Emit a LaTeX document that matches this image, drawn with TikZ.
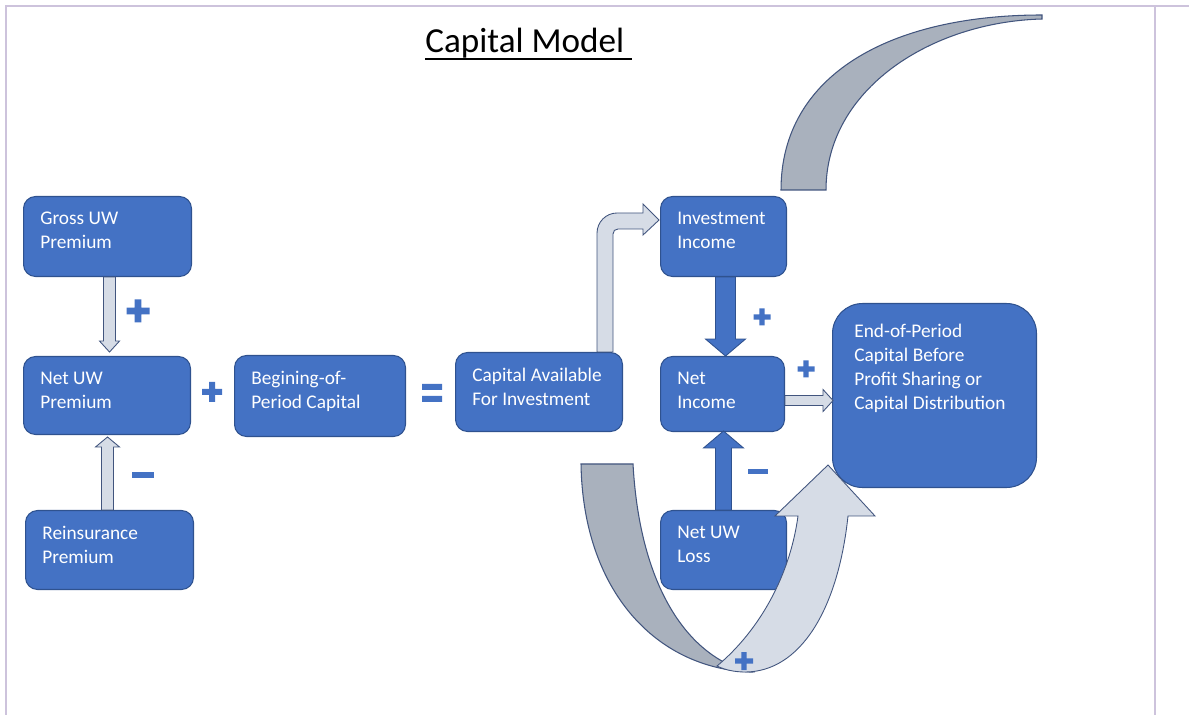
\documentclass[tikz,border=0pt]{standalone}
\usepackage{fontspec}
\setmainfont{Carlito}
\usetikzlibrary{calc}
\definecolor{boxblue}{HTML}{4472C4}
\definecolor{boxline}{HTML}{2F528F}
\definecolor{lite}{HTML}{D6DCE6}
\definecolor{grayb}{HTML}{A9B1BD}
\definecolor{arrline}{HTML}{42557E}
\definecolor{frameln}{HTML}{CDC3DC}
\tikzset{%
    box/.style={rectangle, rounded corners=0.24cm, fill=boxblue, draw=boxline, line width=0.6pt, minimum width=3.36cm, minimum height=1.6cm, anchor=north west, inner sep=0pt},
    txt/.style={anchor=north west, xshift=0.34cm, yshift=-0.31cm, align=left, text=white, inner sep=0pt, font=\fontsize{11}{13.66}\selectfont},
    hol/.style={fill=lite, draw=arrline, line width=0.5pt},
    sol/.style={fill=boxblue, draw=boxline, line width=0.5pt},
    bck/.style={fill=grayb, draw=arrline, line width=0.6pt},
    sgn/.style={fill=boxblue},
    pplus/.pic={\fill[sgn] (-10,-3) rectangle (10,3) (-3,-10) rectangle (3,10);},
    pminus/.pic={\fill[sgn] (-10,-2.5) rectangle (10,2.5);},
    pequal/.pic={\fill[sgn] (-10,-9) rectangle (10,-3) (-10,3) rectangle (10,9);},
}

\begin{document}
\begin{tikzpicture}[x=0.02cm, y=-0.02cm]
    \useasboundingbox (0,0) rectangle (1189,715);
    % page frame
    \draw [frameln, line width=1.2pt] (6,715) -- (6,6) -- (1189,6) (1155,6) -- (1155,715);
    % title
    \node [anchor=base west, inner sep=0pt, font=\fontsize{20}{24}\selectfont] (title) at (425,52.5) {Capital Model};
    \draw [line width=1.1pt] (title.base west) ++(0,6.5) -- ++(207,0);
    % boxes
    \node [box, label={[txt]north west:Gross UW\\Premium}] (gross) at (23,196) {};
    \node [box, minimum width=3.34cm, minimum height=1.56cm, label={[txt]north west:Net UW\\Premium}] (netp) at (23,356) {};
    \node [box, minimum height=1.58cm, label={[txt]north west:Reinsurance\\Premium}] (reins) at (25,510) {};
    \node [box, minimum width=3.42cm, minimum height=1.62cm, label={[txt]north west:Begining-of-\\Period Capital}] (begin) at (234,355) {};
    \node [box, minimum width=3.34cm, minimum height=1.58cm, label={[txt]north west:Capital Available\\For Investment}] (cap) at (455,352) {};
    \node [box, minimum width=2.52cm, label={[txt]north west:Investment\\Income}] (inv) at (660,196) {};
    \node [box, minimum width=2.48cm, minimum height=1.5cm, label={[txt]north west:Net\\Income}] (netinc) at (660,356) {};
    \node [box, minimum width=2.52cm, minimum height=1.58cm, label={[txt]north west:Net UW\\Loss}] (loss) at (660,510) {};
    \node [box, rounded corners=0.6cm, minimum width=4.08cm, minimum height=3.68cm, label={[txt, xshift=0.1cm, yshift=-0.1cm]north west:End-of-Period\\Capital Before\\Profit Sharing or\\Capital Distribution}] (endp) at (832,303) {};
    % block arrows
    \draw [hol] (gross.south) ++(-4,0) -- ++(0,64) -- ++(-4,0) -- ++(10,11) -- ++(10,-11) -- ++(-4,0) -- ++(0,-64) -- cycle;
    \draw [hol] (reins.north) ++(-8,0) -- ++(0,-63) -- ++(-6,0) -- ++(12,-10) -- ++(12,10) -- ++(-6,0) -- ++(0,63) -- cycle;
    \draw [hol] (cap.north east) ++(-26,0) -- ++(0,-119) .. controls +(0,-11) and +(-11,0) .. ++(20,-20) -- ++(26,0) -- ++(0,-9) -- ++(16,16) -- ++(-16,15) -- ++(0,-6) -- ++(-25,0) .. controls +(-3,0) and +(0,-3) .. ++(-5,5) -- ++(0,118) -- cycle;
    \draw [sol] (inv.south) ++(-8,0) -- ++(0,62) -- ++(-10,0) -- ++(20,17) -- ++(20,-17) -- ++(-10,0) -- ++(0,-62) -- cycle;
    \draw [sol] (loss.north) ++(-8,0) -- ++(0,-62) -- ++(-12,0) -- ++(20,-17) -- ++(20,17) -- ++(-12,0) -- ++(0,62) -- cycle;
    \draw [hol] (netinc.east) ++(0,1.5) -- ++(38,0) -- ++(0,-6) -- ++(10,11) -- ++(-10,11) -- ++(0,-6) -- ++(-38,0) -- cycle;
    % curved arrows
    \draw [bck] (781,190) .. controls (781,75) and (890,15) .. (1042,15) -- (1042,19) .. controls (930,22) and (826,90) .. (826,190) -- cycle;
    \draw [bck] (581,464) -- (633,464) .. controls (640,590) and (690,658) .. (750,672) .. controls (655,668) and (583,590) .. (581,464) -- cycle;
    \draw [hol] (717,666) .. controls (760,630) and (790,575) .. (798,516) -- (775,516) -- (828,465) -- (875,516) -- (848,516) .. controls (838,610) and (800,672) .. (745,672) .. controls (735,672) and (725,670) .. (717,666) -- cycle;
    % signs
    \pic [scale=1.15] at (138,311) {pplus};
    \pic at (212,392) {pplus};
    \pic [scale=1.1] at (143,475) {pminus};
    \pic at (432,393) {pequal};
    \pic [scale=0.85] at (762,317) {pplus};
    \pic [scale=0.85] at (806,369) {pplus};
    \pic at (758,472) {pminus};
    \pic [scale=0.9] at (744,661) {pplus};
\end{tikzpicture}
\end{document}
